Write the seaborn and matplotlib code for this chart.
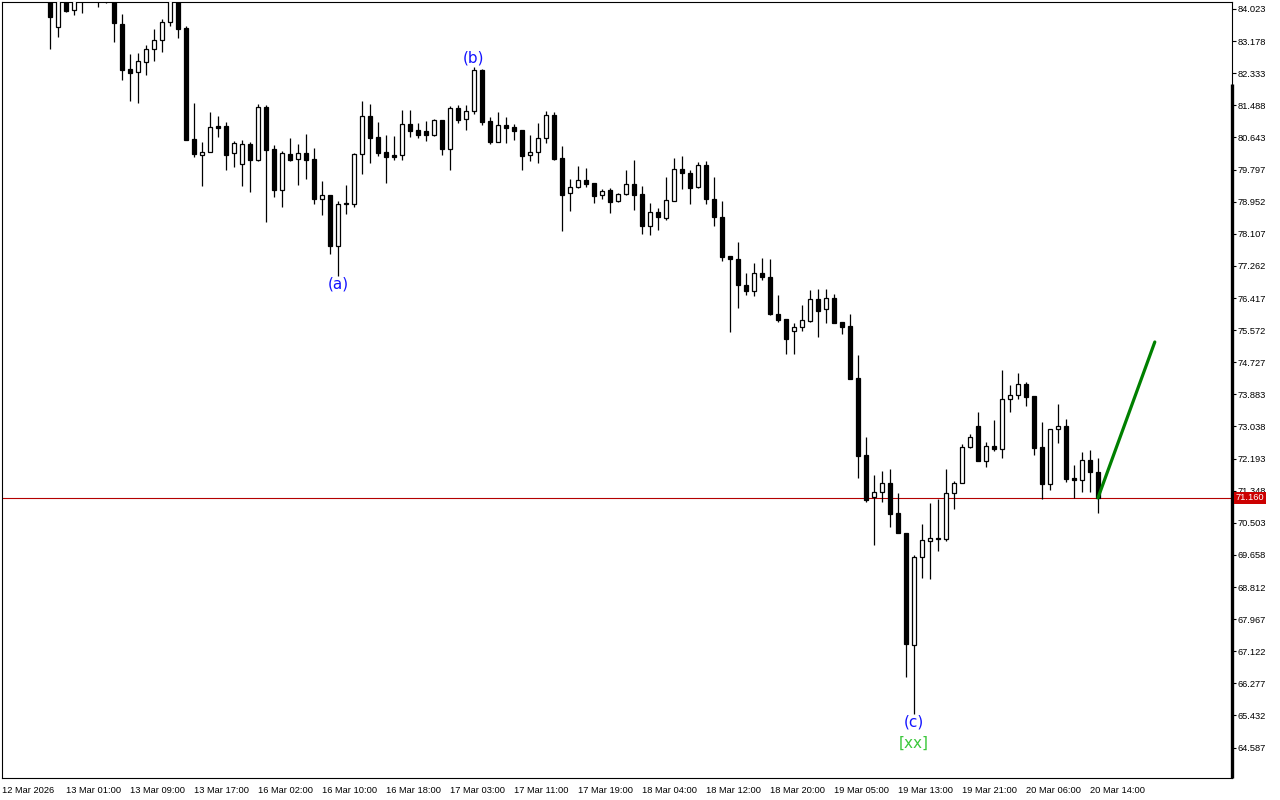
import numpy as np
import pandas as pd
import seaborn as sns
import matplotlib.pyplot as plt
from matplotlib.transforms import blended_transform_factory

# H1 candles, first visible bar is the 7th bar of the chart
first_bar = 6
opens = [84.47, 83.55, 84.39, 84.00, 84.58, 84.52, 84.52, 84.31, 84.39, 83.63,
         82.44, 82.37, 82.63, 82.97, 83.21, 83.68, 84.31, 83.52, 80.60, 80.18,
         80.26, 80.94, 80.94, 80.23, 79.94, 80.47, 80.05, 81.44, 80.34, 79.26,
         80.21, 80.08, 80.23, 80.08, 79.02, 79.13, 77.79, 78.92, 78.89, 80.21,
         81.21, 80.65, 80.26, 80.18, 80.18, 81.00, 80.84, 80.81, 80.71, 81.10,
         80.34, 81.42, 81.13, 81.34, 82.42, 81.08, 80.52, 80.97, 80.92, 80.84,
         80.18, 80.26, 80.63, 81.23, 80.10, 79.18, 79.34, 79.52, 79.44, 79.13,
         79.26, 78.97, 79.15, 79.42, 79.15, 78.31, 78.68, 78.52, 78.97, 79.81,
         79.71, 79.34, 79.92, 79.02, 78.55, 77.52, 77.44, 76.76, 76.60, 77.08,
         76.97, 76.00, 75.87, 75.55, 75.65, 75.81, 76.39, 76.13, 76.42, 75.79,
         75.68, 74.31, 72.29, 71.18, 71.31, 71.55, 70.76, 70.23, 67.29, 69.60,
         70.02, 70.10, 70.08, 71.29, 71.55, 72.50, 73.05, 72.13, 72.52, 72.44,
         73.76, 73.87, 74.15, 73.84, 72.50, 71.52, 72.97, 73.05, 71.68, 71.63,
         72.15, 71.84]
highs = [84.58, 84.52, 84.47, 84.42, 84.66, 84.89, 84.63, 84.58, 84.47, 83.89,
         82.84, 82.87, 83.08, 83.50, 83.76, 84.47, 84.39, 83.58, 81.55, 80.52,
         81.31, 81.21, 81.05, 80.55, 80.58, 80.52, 81.52, 81.50, 80.44, 80.29,
         80.63, 80.47, 80.73, 80.37, 79.50, 79.13, 78.97, 79.39, 80.23, 81.60,
         81.52, 81.05, 80.71, 80.68, 81.37, 81.37, 81.02, 81.08, 81.13, 81.10,
         81.47, 81.50, 81.50, 82.50, 82.44, 81.18, 81.31, 81.18, 81.00, 80.84,
         80.71, 81.02, 81.34, 81.31, 80.42, 79.55, 79.89, 79.84, 79.44, 79.29,
         79.31, 79.18, 79.79, 80.05, 79.37, 78.92, 78.79, 79.60, 80.10, 80.15,
         79.79, 80.00, 80.02, 79.60, 78.97, 77.52, 77.89, 77.08, 77.34, 77.47,
         77.44, 76.50, 75.87, 75.76, 76.23, 76.63, 76.65, 76.65, 76.52, 75.79,
         76.00, 74.92, 72.76, 71.76, 71.87, 71.92, 71.29, 70.23, 69.65, 70.47,
         71.02, 71.13, 71.92, 71.60, 72.58, 72.84, 73.42, 72.63, 73.21, 74.52,
         74.13, 74.44, 74.21, 73.84, 73.15, 72.97, 73.63, 73.23, 72.02, 72.37,
         72.42, 72.21]
lows = [82.97, 83.29, 83.94, 83.87, 83.92, 84.42, 84.08, 84.18, 83.15, 82.15,
        81.60, 81.55, 82.29, 82.65, 82.89, 83.58, 83.26, 80.58, 80.13, 79.37,
        80.26, 80.65, 79.79, 79.87, 79.37, 79.21, 80.02, 78.42, 79.08, 78.81,
        80.02, 79.39, 79.55, 78.89, 78.60, 77.58, 77.00, 78.63, 78.81, 79.68,
        79.97, 80.15, 79.44, 80.05, 80.05, 80.65, 80.63, 80.55, 80.68, 80.18,
        79.79, 81.02, 80.84, 81.26, 80.97, 80.47, 80.52, 80.50, 80.58, 79.79,
        80.02, 79.97, 80.50, 80.05, 78.18, 78.71, 79.31, 79.34, 78.92, 79.02,
        78.65, 78.94, 79.13, 78.73, 78.10, 78.08, 78.21, 78.47, 78.97, 79.29,
        78.89, 79.31, 78.89, 78.31, 77.39, 75.52, 76.15, 76.50, 76.47, 76.89,
        75.97, 75.79, 74.94, 74.94, 75.55, 75.79, 75.39, 75.76, 75.76, 75.47,
        74.29, 71.68, 71.05, 69.92, 71.05, 70.39, 70.23, 66.44, 65.47, 69.05,
        69.02, 69.76, 70.02, 70.87, 71.55, 72.47, 72.13, 71.97, 72.39, 72.21,
        73.42, 73.76, 73.58, 72.29, 71.13, 71.37, 72.60, 71.58, 71.15, 71.31,
        71.31, 70.76]
closes = [83.81, 84.42, 83.97, 84.34, 84.37, 84.79, 84.34, 84.47, 83.65, 82.42,
          82.34, 82.65, 82.97, 83.21, 83.68, 84.37, 83.50, 80.58, 80.21, 80.26,
          80.92, 80.89, 80.18, 80.50, 80.47, 80.05, 81.44, 80.31, 79.26, 80.23,
          80.05, 80.23, 80.05, 79.02, 79.13, 77.79, 78.89, 78.89, 80.21, 81.21,
          80.63, 80.23, 80.13, 80.13, 81.00, 80.81, 80.71, 80.71, 81.10, 80.34,
          81.42, 81.10, 81.34, 82.42, 81.05, 80.52, 80.97, 80.89, 80.81, 80.15,
          80.26, 80.63, 81.23, 80.08, 79.13, 79.34, 79.52, 79.42, 79.10, 79.23,
          78.94, 79.15, 79.42, 79.13, 78.31, 78.68, 78.55, 79.00, 79.81, 79.71,
          79.31, 79.92, 79.02, 78.55, 77.50, 77.44, 76.76, 76.60, 77.08, 76.97,
          76.00, 75.84, 75.34, 75.65, 75.84, 76.39, 76.08, 76.42, 75.76, 75.65,
          74.29, 72.26, 71.10, 71.31, 71.55, 70.73, 70.23, 67.31, 69.60, 70.05,
          70.10, 70.08, 71.29, 71.55, 72.50, 72.76, 72.13, 72.52, 72.44, 73.76,
          73.87, 74.15, 73.81, 72.47, 71.52, 72.97, 73.05, 71.65, 71.63, 72.15,
          71.84, 71.16]

time_labels = ["12 Mar 2026", "13 Mar 01:00", "13 Mar 09:00", "13 Mar 17:00",
               "16 Mar 02:00", "16 Mar 10:00", "16 Mar 18:00", "17 Mar 03:00",
               "17 Mar 11:00", "17 Mar 19:00", "18 Mar 04:00", "18 Mar 12:00",
               "18 Mar 20:00", "19 Mar 05:00", "19 Mar 13:00", "19 Mar 21:00",
               "20 Mar 06:00", "20 Mar 14:00"]
bars_per_label = 8
price_ticks = [84.023, 83.178, 82.333, 81.488, 80.643, 79.797, 78.952, 78.107,
               77.262, 76.417, 75.572, 74.727, 73.883, 73.038, 72.193, 71.348,
               70.503, 69.658, 68.812, 67.967, 67.122, 66.277, 65.432, 64.587]
last_price = 71.16

wave_labels = ["(a)", "(b)", "(c)"]
wave_bars = [42, 59, 114]
wave_prices = [76.79, 82.73, 65.26]
degree_label = "[xx]"
degree_bar = 114
degree_price = 64.71

proj_bars = [137, 144.1]
proj_prices = [71.16, 75.26]

sns.set_style("white")
plt.rcParams['font.family'] = ['Liberation Sans', 'DejaVu Sans']

df = pd.DataFrame({"open": opens, "high": highs, "low": lows, "close": closes})
df["bar"] = np.arange(first_bar, first_bar + len(df))
df["up"] = df["close"] >= df["open"]
df["body"] = (df["close"] - df["open"]).abs().clip(lower=0.015)
df["base"] = df[["open", "close"]].min(axis=1)

fig = plt.figure(figsize=(12.8, 8), dpi=100)
ax = fig.add_axes([2 / 1280, 22 / 800, 1230 / 1280, 776 / 800])
ax.set_xlim(0, 153.75)
ax.set_ylim(63.786, 84.207)

# current price line
ax.axhline(last_price, color="#b40000", lw=0.8, zorder=1)

# wicks and bodies
ax.vlines(df["bar"], df["low"], df["high"], color="black", lw=0.9, zorder=2)
ax.bar(df["bar"], df["body"], bottom=df["base"], width=0.6,
       color=np.where(df["up"], "white", "black"), edgecolor="black",
       linewidth=0.9, zorder=3)

# projection
sns.lineplot(x=proj_bars, y=proj_prices, color="#008000", lw=2.3, ax=ax, zorder=4)

# wave labels
for lab, b, p in zip(wave_labels, wave_bars, wave_prices):
    ax.text(b, p, lab, color="#1414ff", ha="center", va="center", fontsize=11,
            family="DejaVu Sans", zorder=5)
ax.text(degree_bar, degree_price, degree_label, color="#3cc83c", ha="center",
        va="center", fontsize=11, family="DejaVu Sans", zorder=5)

# axes styling
for s in ax.spines.values():
    s.set_color("black")
    s.set_linewidth(0.8)
ax.plot([1, 1], [0, (778 - 84) / 776], transform=ax.transAxes, color="black",
        lw=2.4, clip_on=False, zorder=6, solid_capstyle="butt")

ax.yaxis.tick_right()
ax.set_yticks(price_ticks)
ax.set_yticklabels([f"{v:.3f}" for v in price_ticks])
ax.tick_params(axis="y", direction="out", length=3, width=0.8, pad=1,
               labelsize=6.7, colors="black")

ax.set_xticks(np.arange(len(time_labels)) * bars_per_label)
ax.set_xticklabels(time_labels)
for t in ax.get_xticklabels():
    t.set_ha("left")
ax.tick_params(axis="x", direction="out", length=4, width=0.8, pad=1.5,
               labelsize=6.7, colors="black")
ax.set_xlabel("")
ax.set_ylabel("")

# last price tag
trans = blended_transform_factory(ax.transAxes, ax.transData)
ax.text(1.0027, last_price, "71.160", transform=trans, ha="left", va="center",
        color="white", fontsize=6.7, clip_on=False, zorder=10,
        bbox=dict(facecolor="#cc0000", edgecolor="none", pad=1.2))

fig.savefig("out.png", dpi=100, facecolor="white")
